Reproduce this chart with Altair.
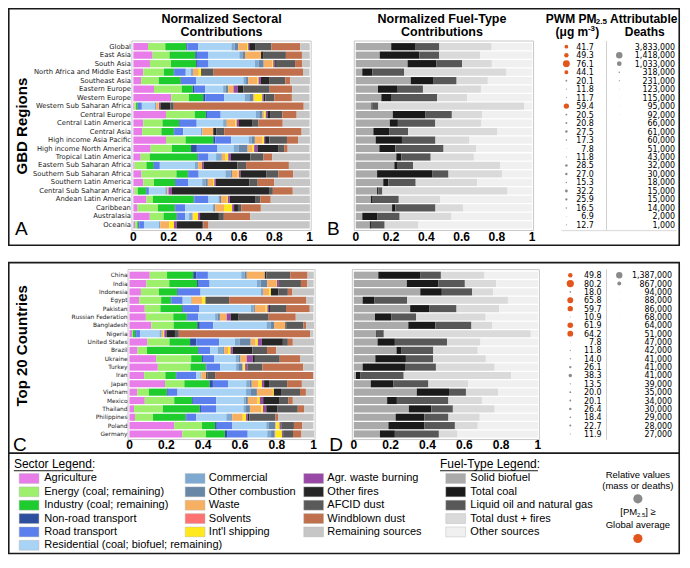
import altair as alt
import pandas as pd

# ---------------- data ----------------
regions = ["Global", "East Asia", "South Asia", "North Africa and Middle East", "Southeast Asia",
           "Eastern Europe", "Western Europe", "Western Sub Saharan Africa", "Central Europe",
           "Central Latin America", "Central Asia", "High income Asia Pacific",
           "High income North America", "Tropical Latin America", "Eastern Sub Saharan Africa",
           "Southern Sub Saharan Africa", "Southern Latin America", "Central Sub Saharan Africa",
           "Andean Latin America", "Caribbean", "Australasia", "Oceania"]
pwm_regions = [41.7, 49.3, 76.1, 44.1, 20.1, 11.8, 11.7, 59.4, 20.5, 20.8, 27.5, 17.3, 7.8, 11.8,
               28.5, 27.0, 15.3, 32.2, 25.9, 16.5, 6.9, 12.7]
deaths_regions = [3833000, 1418000, 1033000, 318000, 231000, 123000, 115000, 95000, 92000, 66000,
                  61000, 60000, 51000, 43000, 32000, 30000, 18000, 15000, 15000, 14000, 2000, 1000]

countries = ["China", "India", "Indonesia", "Egypt", "Pakistan", "Russian Federation", "Bangladesh",
             "Nigeria", "United States", "Brazil", "Ukraine", "Turkey", "Iran", "Japan", "Vietnam",
             "Mexico", "Thailand", "Philippines", "Poland", "Germany"]
pwm_countries = [49.8, 80.2, 18.0, 65.8, 59.7, 10.9, 61.9, 64.2, 7.8, 11.8, 14.0, 26.1, 38.3, 13.5,
                 20.0, 20.1, 26.4, 18.4, 22.7, 11.9]
deaths_countries = [1387000, 867000, 94000, 88000, 86000, 68000, 64000, 51000, 47000, 42000, 41000,
                    41000, 41000, 39000, 35000, 34000, 30000, 29000, 28000, 27000]

sectors = ["Agriculture", "Energy (coal; remaining)", "Industry (coal; remaining)",
           "Non-road transport", "Road transport", "Residential (coal; biofuel; remaining)",
           "Commercial", "Other combustion", "Waste", "Solvents", "Int'l shipping",
           "Agr. waste burning", "Other fires", "AFCID dust", "Windblown dust", "Remaining sources"]
sector_colors = ["#e87ce8", "#9ef06c", "#1fcc2e", "#2e4f9e", "#5b80ee", "#a9d3f5", "#7eaad2",
                 "#6886a6", "#f7b062", "#ff7272", "#ffe81c", "#9a48a8", "#262626", "#5a5a5a",
                 "#c0704c", "#c6c6c6"]

fuels = ["Solid biofuel", "Total coal", "Liquid oil and natural gas", "Total dust + fires",
         "Other sources"]
fuel_colors = ["#aaaaaa", "#1a1a1a", "#585858", "#dadada", "#f0f0f0"]

# sector fractions, regions (same order as `regions`)
agri_r = [.083, .109, .094, .056, .044, .117, .215, .006, .185, .056, .050, .185, .098, .041, .006, .046, .056, .006, .074, .024, .093, .009]
energy_r = [.098, .096, .119, .117, .100, .157, .100, .009, .163, .109, .109, .111, .120, .052, .068, .198, .061, .019, .037, .115, .078, .013]
industry_r = [.119, .146, .143, .056, .124, .063, .081, .009, .063, .094, .070, .157, .109, .270, .041, .065, .119, .046, .231, .096, .074, .006]
nonroad_r = [.006, .009, .009, .002, .006, .007, .013, .002, .006, .004, .002, .011, .033, .004, .002, .004, .004, .004, .004, .004, .006, .006]
road_r = [.061, .063, .061, .066, .081, .063, .107, .022, .078, .096, .052, .091, .117, .059, .033, .057, .072, .013, .080, .054, .043, .026]
resid_r = [.189, .178, .263, .028, .269, .102, .115, .072, .200, .150, .100, .098, .091, .043, .198, .152, .078, .093, .056, .156, .022, .085]
comm_r = [.019, .017, .022, .013, .015, .013, .026, .009, .019, .013, .009, .017, .028, .028, .019, .030, .019, .011, .009, .009, .013, .007]
othcomb_r = [.020, .015, .028, 0, .013, .015, .022, 0, .019, .007, 0, .019, .052, .004, 0, .007, .013, 0, .006, .006, .006, 0]
waste_r = [.050, .091, .048, .033, .052, .031, .009, .011, .009, .050, .061, .043, .028, .022, .022, .033, .030, .007, .033, .050, .006, .052]
solv_r = [0] * 22
ship_r = [.006, 0, .006, .013, .006, 0, .043, .004, .009, .007, 0, .009, .009, .015, 0, .006, .007, 0, .006, .046, .026, .026]
agrw_r = [.006, 0, .009, 0, .013, .024, .007, .009, .009, .013, 0, .006, .019, .015, .009, .009, .009, .020, .011, .011, .011, .015]
ofire_r = [.033, .015, .006, .004, .050, .031, .011, .056, .015, .074, .019, .024, .120, .111, .191, .146, .191, .550, .143, .022, .107, .144]
afcid_r = [.093, .126, .109, .067, .089, .150, .050, .020, .070, .037, .043, .100, .031, .074, .050, .070, .046, .022, .030, .019, .028, .009]
wdust_r = [.163, .091, .041, .507, .028, .128, .100, .737, .081, .137, .439, .063, .020, .050, .243, .083, .093, .113, .059, .111, .150, .028]
remain_r = [.054, .044, .043, .037, .111, .098, .100, .033, .074, .152, .046, .067, .124, .213, .119, .093, .204, .096, .222, .278, .339, .574]

# sector fractions, countries
agri_c = [.110, .092, .062, .053, .083, .089, .119, .014, .098, .044, .145, .154, .080, .193, .043, .083, .025, .030, .243, .287]
energy_c = [.094, .124, .098, .119, .085, .149, .121, .004, .119, .051, .190, .177, .115, .105, .062, .160, .156, .098, .151, .128]
industry_c = [.142, .151, .098, .053, .119, .073, .128, .014, .112, .277, .059, .083, .057, .137, .098, .098, .200, .177, .071, .103]
nonroad_c = [.016, .009, .004, .002, .004, .005, .014, .004, .034, .004, .005, .004, .004, .018, .005, .004, .007, .005, .009, .012]
road_c = [.064, .059, .124, .062, .089, .057, .073, .021, .124, .062, .062, .074, .106, .083, .053, .126, .082, .053, .085, .112]
resid_c = [.181, .257, .328, .044, .280, .092, .289, .106, .085, .041, .115, .087, .023, .098, .372, .149, .149, .163, .184, .106]
comm_c = [.018, .021, .011, .005, .014, .014, .023, .012, .027, .030, .018, .012, .005, .018, .027, .011, .014, .027, .014, .021]
othcomb_c = [.012, .035, 0, 0, .007, .012, .018, 0, .059, .005, .009, .023, 0, .012, .032, .012, .021, .005, .035, .020]
waste_c = [.098, .048, .034, .057, .059, .037, .062, .009, .027, .021, .034, .005, .027, .037, .087, .053, .062, .057, .005, .005]
solv_c = [0] * 20
ship_c = [0, .004, .009, .018, .009, 0, 0, .005, .012, .014, 0, .009, 0, .018, .005, .012, .009, .018, .018, .034]
agrw_c = [0, .011, 0, 0, .009, .021, 0, .012, .021, .012, .032, .012, 0, .012, 0, .018, .018, .009, .007, .005]
ofire_c = [.009, .005, .041, .002, .005, .044, .004, .046, .115, .106, .012, .002, .007, .027, .039, .090, .059, .009, .002, .004]
afcid_c = [.129, .115, .051, .126, .087, .163, .094, .021, .027, .080, .135, .080, .041, .098, .103, .048, .112, .142, .069, .051]
wdust_c = [.094, .035, .025, .420, .129, .147, .014, .713, .027, .050, .110, .222, .532, .080, .032, .023, .034, .014, .046, .046]
remain_c = [.034, .034, .117, .039, .021, .096, .043, .018, .115, .202, .074, .057, .004, .066, .043, .113, .053, .193, .060, .069]

# fuel-type fractions, regions
bio_r = [.201, .136, .294, .037, .312, .126, .145, .089, .210, .193, .100, .113, .134, .230, .219, .121, .156, .121, .086, .206, .037, .080]
coal_r = [.139, .225, .162, .058, .130, .112, .059, .004, .186, .046, .089, .149, .091, .028, .019, .312, .028, .006, .006, .019, .084, .006]
liq_r = [.134, .112, .147, .180, .130, .143, .257, .035, .149, .212, .108, .190, .273, .167, .087, .093, .156, .024, .152, .227, .128, .078]
dust_r = [.297, .232, .169, .580, .177, .329, .171, .829, .171, .262, .507, .193, .184, .245, .493, .303, .348, .710, .236, .158, .294, .191]
other_r = [.229, .296, .229, .145, .251, .290, .368, .043, .284, .286, .195, .355, .318, .329, .182, .171, .312, .139, .520, .390, .457, .645]

# fuel-type fractions, countries
bio_c = [.133, .288, .361, .048, .306, .115, .296, .122, .129, .232, .117, .048, .012, .092, .342, .181, .299, .227, .188, .142]
coal_c = [.227, .172, .117, .065, .103, .088, .147, .004, .094, .028, .166, .230, .025, .124, .175, .053, .122, .156, .196, .081]
liq_c = [.113, .143, .165, .177, .149, .136, .196, .037, .283, .172, .147, .168, .234, .189, .092, .280, .117, .131, .165, .239]
dust_c = [.237, .170, .115, .547, .232, .377, .113, .798, .182, .241, .287, .319, .584, .216, .175, .182, .227, .170, .124, .101]
other_c = [.290, .227, .242, .163, .211, .283, .248, .039, .312, .327, .283, .235, .145, .379, .216, .304, .235, .317, .327, .437]

tick_values = [0, 0.2, 0.4, 0.6, 0.8, 1]
tick_labels = ["0", "0.2", "0.4", "0.6", "0.8", "1"]

# ---------------- layout helpers ----------------
W, H = 674, 548
SX = 672 / 686
SY = 546 / 564


def px(v):
    return round((v - 2) * SX, 2)


def py(v):
    return round((v - 2) * SY, 2)


SANS = "Liberation Sans, Arial, sans-serif"
LABEL = "DejaVu Sans, sans-serif"
NUM = "DejaVu Sans Condensed, DejaVu Sans, sans-serif"
ORANGE = "#e2561c"
DOTGREY = "#8a8a8a"
NUM_SIZE = 8.8
ONE = pd.DataFrame({"k": [0]})

layers = []


def text_at(txt, x, y, size, weight="normal", align="center", font=SANS, angle=0,
            color="#000", baseline="middle"):
    kw = dict(text=txt, fontSize=size, fontWeight=weight, align=align, baseline=baseline,
              font=font, color=color)
    if angle:
        kw["angle"] = angle
    return alt.Chart(ONE).mark_text(**kw).encode(x=alt.value(px(x)), y=alt.value(py(y)))


def rect_outline(x0, y0, x1, y1, color, width):
    return alt.Chart(ONE).mark_rect(fillOpacity=0, stroke=color, strokeWidth=width).encode(
        x=alt.value(px(x0)), x2=alt.value(px(x1)), y=alt.value(py(y0)), y2=alt.value(py(y1)))


def hrule(x0, x1, y, color, width):
    return alt.Chart(ONE).mark_rule(color=color, strokeWidth=width).encode(
        x=alt.value(px(x0)), x2=alt.value(px(x1)), y=alt.value(py(y)))


def vrule(x, y0, y1, color, width):
    return alt.Chart(ONE).mark_rule(color=color, strokeWidth=width).encode(
        x=alt.value(px(x)), y=alt.value(py(y0)), y2=alt.value(py(y1)))


def stack_df(cats, names, arrays):
    rows = []
    for i, c in enumerate(cats):
        acc = 0.0
        for name, arr in zip(names, arrays):
            v = arr[i]
            if v > 0:
                rows.append({"cat": c, "part": name, "x0": acc, "x1": acc + v})
            acc += v
    return pd.DataFrame(rows)


def yscale(cats, y0, y1):
    return alt.Scale(domain=cats, range=[py(y0), py(y1)], paddingInner=0.15, paddingOuter=0.075)


def xscale(x0, x1):
    return alt.Scale(domain=[0, 1], range=[px(x0), px(x1)])


def bar_panel(cats, names, colors, arrays, xr, yr, tick_y, label_x=None, label_size=7):
    ys = yscale(cats, *yr)
    xs = xscale(*xr)
    out = [rect_outline(xr[0] - 1.5, yr[0] - 1.5, xr[1] + 1.5, yr[1] + 1.5, "#c8c8c8", 1)]
    df = stack_df(cats, names, arrays)
    out.append(alt.Chart(df).mark_bar(strokeWidth=0).encode(
        x=alt.X("x0:Q", scale=xs, axis=None), x2="x1:Q",
        y=alt.Y("cat:N", scale=ys, axis=None),
        color=alt.Color("part:N", scale=alt.Scale(domain=names, range=colors), legend=None)))
    if label_x is not None:
        out.append(alt.Chart(pd.DataFrame({"cat": cats})).mark_text(
            align="right", baseline="middle", fontSize=label_size, font=LABEL, color="#222").encode(
            x=alt.value(px(label_x)), y=alt.Y("cat:N", scale=ys, axis=None), text="cat:N"))
    out.append(alt.Chart(pd.DataFrame({"v": tick_values, "t": tick_labels})).mark_text(
        align="center", baseline="middle", fontSize=12, fontWeight="bold", font=SANS).encode(
        x=alt.X("v:Q", scale=xs, axis=None), y=alt.value(py(tick_y)), text="t:N"))
    return out


def value_columns(cats, pwm, deaths, yr, cx_pwm, tx_pwm, cx_d, tx_d, global_avg):
    ys = yscale(cats, *yr)
    df = pd.DataFrame({"cat": cats, "pwm": pwm, "deaths": deaths})
    out = []
    out.append(alt.Chart(df).mark_circle(opacity=1).encode(
        x=alt.value(px(cx_pwm)), y=alt.Y("cat:N", scale=ys, axis=None),
        size=alt.Size("pwm:Q", scale=alt.Scale(type="pow", exponent=2, domain=[0, 80.2],
                                               range=[0, 52]), legend=None),
        color=alt.condition(alt.datum.pwm >= global_avg, alt.value(ORANGE), alt.value(DOTGREY))))
    out.append(alt.Chart(df).mark_text(align="right", baseline="middle", fontSize=NUM_SIZE,
                                       font=NUM).encode(
        x=alt.value(px(tx_pwm)), y=alt.Y("cat:N", scale=ys, axis=None),
        text=alt.Text("pwm:Q", format=".1f")))
    dd = df[df["cat"] != "Global"]
    out.append(alt.Chart(dd).mark_circle(opacity=1, color=DOTGREY).encode(
        x=alt.value(px(cx_d)), y=alt.Y("cat:N", scale=ys, axis=None),
        size=alt.Size("deaths:Q", scale=alt.Scale(type="pow", exponent=2, domain=[0, 1418000],
                                                  range=[0, 42]), legend=None)))
    out.append(alt.Chart(df).mark_text(align="right", baseline="middle", fontSize=NUM_SIZE,
                                       font=NUM).encode(
        x=alt.value(px(tx_d)), y=alt.Y("cat:N", scale=ys, axis=None),
        text=alt.Text("deaths:Q", format=",d")))
    return out


sector_arrays_r = [agri_r, energy_r, industry_r, nonroad_r, road_r, resid_r, comm_r, othcomb_r,
                   waste_r, solv_r, ship_r, agrw_r, ofire_r, afcid_r, wdust_r, remain_r]
sector_arrays_c = [agri_c, energy_c, industry_c, nonroad_c, road_c, resid_c, comm_c, othcomb_c,
                   waste_c, solv_c, ship_c, agrw_c, ofire_c, afcid_c, wdust_c, remain_c]
fuel_arrays_r = [bio_r, coal_r, liq_r, dust_r, other_r]
fuel_arrays_c = [bio_c, coal_c, liq_c, dust_c, other_c]

# ---------------- top box (GBD regions) ----------------
TOP_Y = (37.6, 230.4)
layers += bar_panel(regions, sectors, sector_colors, sector_arrays_r, (130, 310), TOP_Y, 239,
                    label_x=127.5, label_size=6.8)
layers += bar_panel(regions, fuels, fuel_colors, fuel_arrays_r, (357, 537), TOP_Y, 239)
layers.append(vrule(613, 36, 232, "#d0d0d0", 1))
layers.append(hrule(567, 684, 232, "#d8d8d8", 1))
layers += value_columns(regions, pwm_regions, deaths_regions, TOP_Y, 572, 600, 626, 683,
                        pwm_regions[0])

layers.append(text_at("Normalized Sectoral", 220, 13, 12.5, "bold"))
layers.append(text_at("Contributions", 220, 27, 12.5, "bold"))
layers.append(text_at("Normalized Fuel-Type", 445, 13, 12.5, "bold"))
layers.append(text_at("Contributions", 445, 27, 12.5, "bold"))
layers.append(text_at("PWM PM", 551, 13, 12, "bold", align="left"))
layers.append(text_at("2.5", 602, 16, 8, "bold", align="left"))
layers.append(text_at("(\u03bcg m", 561, 27, 12, "bold", align="left"))
layers.append(text_at("-3", 594, 23.5, 8, "bold", align="left"))
layers.append(text_at(")", 601.5, 27, 12, "bold", align="left"))
layers.append(text_at("Attributable", 651, 13, 12, "bold"))
layers.append(text_at("Deaths", 652, 27, 12, "bold"))
layers.append(text_at("GBD Regions", 16, 124, 15, "bold", angle=270))
layers.append(text_at("A", 15.5, 230.5, 19))
layers.append(text_at("B", 334, 230.5, 19))

# ---------------- bottom box (Top 20 countries) ----------------
BOT_Y = (273.7, 446.3)
layers += bar_panel(countries, sectors, sector_colors, sector_arrays_c, (126, 314), BOT_Y, 453,
                    label_x=124, label_size=5.9)
layers += bar_panel(countries, fuels, fuel_colors, fuel_arrays_c, (355, 543), BOT_Y, 453)
layers.append(vrule(613, 272, 448, "#d0d0d0", 1))
layers += value_columns(countries, pwm_countries, deaths_countries, BOT_Y, 576, 608, 626, 680,
                        pwm_regions[0])
layers.append(text_at("Top 20 Countries", 16, 351, 15, "bold", angle=270))
layers.append(text_at("C", 14, 453, 19))
layers.append(text_at("D", 337, 453, 19))

# ---------------- legend box ----------------
LEG_ROWS = (488, 557)


def legend_column(names, colors, x_sw, x_txt):
    df = pd.DataFrame({"name": names, "row": list(range(len(names)))})
    ys = alt.Scale(domain=[0, 5], range=[py(LEG_ROWS[0]), py(LEG_ROWS[1])])
    sw = alt.Chart(df).mark_point(shape="M-1,-0.5H1V0.5H-1Z", filled=True, opacity=1,
                                  stroke="#b0b0b0", strokeWidth=0.4).encode(
        x=alt.value(px(x_sw)), y=alt.Y("row:Q", scale=ys, axis=None),
        color=alt.Color("name:N", scale=alt.Scale(domain=names, range=colors), legend=None),
        size=alt.value(390))
    tx = alt.Chart(df).mark_text(align="left", baseline="middle", fontSize=11, font=SANS).encode(
        x=alt.value(px(x_txt)), y=alt.Y("row:Q", scale=ys, axis=None), text="name:N")
    return [sw, tx]


layers.append(text_at("Sector Legend:", 8, 473, 12, align="left"))
layers.append(hrule(8, 89, 480, "#000", 0.9))
layers += legend_column(sectors[0:6], sector_colors[0:6], 23.5, 39)
layers += legend_column(sectors[6:11], sector_colors[6:11], 193, 207)
layers += legend_column(sectors[11:16], sector_colors[11:16], 314, 328)
layers.append(text_at("Fuel-Type Legend:", 443, 473, 12, align="left"))
layers.append(hrule(443, 543, 480, "#000", 0.9))
layers += legend_column(fuels, fuel_colors, 459, 474)

layers.append(text_at("Relative values", 645, 484, 9.5))
layers.append(text_at("(mass or deaths)", 645, 496, 9.5))
layers.append(alt.Chart(ONE).mark_circle(opacity=1, color=DOTGREY, size=85).encode(
    x=alt.value(px(645)), y=alt.value(py(509))))
layers.append(text_at("[PM", 627, 523, 9.5, align="left"))
layers.append(text_at("2.5", 644, 525.5, 6, align="left"))
layers.append(text_at("] \u2265", 652.5, 523, 9.5, align="left"))
layers.append(text_at("Global average", 645, 536, 9.5))
layers.append(alt.Chart(ONE).mark_circle(opacity=1, color=ORANGE, size=85).encode(
    x=alt.value(px(645)), y=alt.value(py(550))))

# ---------------- frames ----------------
layers.append(rect_outline(2.8, 2.8, 687.2, 247, "#1a1a1a", 1.6))
layers.append(rect_outline(2.8, 265, 687.2, 462, "#1a1a1a", 1.6))
layers.append(rect_outline(2.8, 462, 687.2, 565.5, "#1a1a1a", 1.6))

chart = alt.layer(*layers).resolve_scale(
    x="independent", y="independent", color="independent", size="independent"
).properties(
    width=W, height=H, padding=0, autosize=alt.AutoSizeParams(type="none")
).configure_view(strokeWidth=0)

chart.save("out.html", embed_options={"renderer": "svg", "actions": False})
